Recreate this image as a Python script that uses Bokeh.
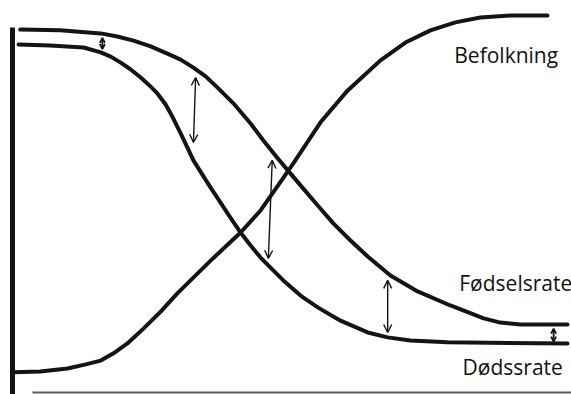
from bokeh.plotting import figure
from bokeh.models import Range1d, LinearAxis, FixedTicker, Arrow, OpenHead, ColumnDataSource
from bokeh.core.properties import value
from bokeh.embed import file_html
from bokeh.resources import INLINE

# --- data (time 0..100, level 0..100) ---
birth_time = [1.4, 8.6, 15.9, 18.9, 21.8, 24.9, 27.9, 30.3, 32.6, 34.8, 36.9, 39.8, 42.9,
              45.2, 47.7, 50.1, 51.9, 55.0, 57.8, 60.9, 64.0, 68.1, 73.0, 78.9, 84.9,
              87.9, 91.5, 100.0]
birth_rate = [95.5, 95.3, 94.5, 93.7, 92.6, 91.1, 89.2, 87.6, 85.5, 83.2, 80.3, 76.1, 70.8,
              66.3, 61.8, 57.6, 54.5, 49.2, 44.5, 40.0, 35.8, 30.8, 26.6, 22.9, 19.5,
              18.4, 17.9, 17.9]

death_time = [1.1, 6.8, 12.8, 15.9, 17.7, 19.5, 21.3, 23.1, 24.9, 26.1, 27.6, 28.8, 30.3,
              31.5, 32.6, 34.1, 35.7, 36.9, 38.9, 41.1, 42.9, 44.7, 46.8, 48.8, 51.9,
              55.0, 59.1, 64.0, 67.6, 71.7, 78.4, 100.0]
death_rate = [91.6, 91.3, 90.8, 89.5, 88.4, 86.8, 85.0, 82.9, 80.5, 78.7, 75.8, 72.6, 68.2,
              64.5, 61.1, 57.6, 53.9, 51.3, 46.8, 42.1, 38.7, 35.5, 32.4, 29.5, 25.5,
              22.4, 18.9, 15.8, 14.5, 13.7, 13.2, 12.9]

pop_time = [0.2, 5.0, 9.9, 13.2, 15.9, 18.2, 20.7, 23.6, 26.7, 29.7, 35.7, 41.1, 44.7,
            47.7, 50.6, 55.5, 60.4, 66.3, 70.8, 75.3, 79.8, 84.3, 89.7, 96.4]
population = [5.3, 5.5, 6.3, 7.4, 8.4, 10.3, 12.9, 16.8, 21.3, 26.1, 34.7, 42.1, 47.9,
              54.2, 60.3, 71.1, 79.5, 87.4, 92.1, 95.3, 97.4, 98.7, 99.2, 99.2]

# gap arrows (birth rate minus death rate)
gap_big_x_top = [33.0, 46.8, 67.6]
gap_big_y_top = [82.9, 61.1, 29.5]
gap_big_x_bot = [32.6, 46.1, 67.6]
gap_big_y_bot = [65.8, 35.3, 15.8]

gap_small_x = [16.2, 97.5]
gap_small_y_top = [93.3, 16.8]
gap_small_y_bot = [90.4, 13.4]

labels = ["Befolkning", "Fødselsrate", "Dødssrate"]
label_x = [79.6, 80.5, 81.1]
label_y = [88.9, 28.7, 6.8]

INK = "#141414"

p = figure(width=571, height=394,
           x_range=Range1d(-2.16, 100.72), y_range=Range1d(-0.53, 103.16),
           x_axis_type=None, y_axis_type=None,
           toolbar_location=None, output_backend="svg", min_border=0)
p.outline_line_color = None
p.background_fill_color = "white"

# axes (no ticks, just lines)
yax = LinearAxis(fixed_location=0, bounds=(-1, 96.1), ticker=FixedTicker(ticks=[]),
                 axis_line_width=5, axis_line_color=INK,
                 major_tick_line_color=None, minor_tick_line_color=None,
                 major_label_text_font_size="0px", major_label_standoff=0,
                 major_tick_out=0, minor_tick_out=0, major_tick_in=0, minor_tick_in=0)
p.add_layout(yax, "left")
xax = LinearAxis(fixed_location=0.0, bounds=(3.6, 101), ticker=FixedTicker(ticks=[]),
                 axis_line_width=2, axis_line_color="#5a5a5a",
                 major_tick_line_color=None, minor_tick_line_color=None,
                 major_label_text_font_size="0px", major_label_standoff=0,
                 major_tick_out=0, minor_tick_out=0, major_tick_in=0, minor_tick_in=0)
p.add_layout(xax, "below")

for xs, ys in [(birth_time, birth_rate), (death_time, death_rate), (pop_time, population)]:
    p.line(xs, ys, line_width=4, line_color=INK, line_join="round", line_cap="round")

big = ColumnDataSource(dict(x0=gap_big_x_top, y0=gap_big_y_top, x1=gap_big_x_bot, y1=gap_big_y_bot))
p.add_layout(Arrow(source=big, x_start="x0", y_start="y0", x_end="x1", y_end="y1",
                   line_width=1.4, line_color=INK,
                   start=OpenHead(size=8, line_width=1.4, line_color=INK),
                   end=OpenHead(size=8, line_width=1.4, line_color=INK)))
small = ColumnDataSource(dict(x0=gap_small_x, y0=gap_small_y_top, x1=gap_small_x, y1=gap_small_y_bot))
p.add_layout(Arrow(source=small, x_start="x0", y_start="y0", x_end="x1", y_end="y1",
                   line_width=1.8, line_color=INK,
                   start=OpenHead(size=5, line_width=1.8, line_color=INK),
                   end=OpenHead(size=5, line_width=1.8, line_color=INK)))

p.text(x=label_x, y=label_y, text=labels, text_font=value("Open Sans"),
       text_font_size="21px", text_baseline="alphabetic", text_align="left",
       text_color="#111111")

open("out.html", "w").write(file_html(p, INLINE))
